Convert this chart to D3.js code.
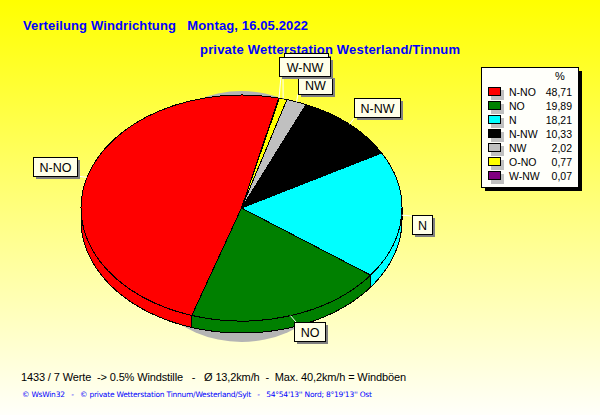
<!DOCTYPE html>
<html><head><meta charset="utf-8">
<script src="https://cdn.jsdelivr.net/npm/d3@7/dist/d3.min.js"></script>
<style>html,body{margin:0;padding:0;background:#fff}svg{display:block}text{white-space:pre}</style>
</head><body><svg id="c" width="600" height="415"></svg>
<script>
const categories=["N-NO","NO","N","N-NW","NW","O-NO","W-NW"];
const percents=[48.71,19.89,18.21,10.33,2.02,0.77,0.07];
const percentLabels=["48,71","19,89","18,21","10,33","2,02","0,77","0,07"];
const colors=["#ff0000","#008000","#00ffff","#000000","#c0c0c0","#ffff00","#800080"];
const titleLine1="Verteilung Windrichtung   Montag, 16.05.2022";
const titleLine2="private Wetterstation Westerland/Tinnum";
const footer1="1433 / 7 Werte  -> 0.5% Windstille   -   Ø 13,2km/h  -  Max. 40,2km/h = Windböen";
const footer2="© WsWin32   -   © private Wetterstation Tinnum/Westerland/Sylt   -   54°54'13'' Nord; 8°19'13'' Ost";

// layout
const cx=241.5,cy=208,rx=160.5,ry=113,depth=12;
const labelBoxes={ "N-NO":[33,157,44,19],"NO":[294,322,31,19],"N":[412,215,20,19],"N-NW":[354,98,46,19],
  "NW":[298,75,34,19],"O-NO":[284,53,44,19],"W-NW":[279,57,51,19]};
const hiddenLabels=["O-NO"]; // box lies under W-NW, its text is not visible
const leaderEnd={ "N-NO":[77,176],"NO":[296,322],"N":[412,216],"N-NW":[355,117],"NW":[298,94],"O-NO":[283,76],"W-NW":[281,76]};

const svg=d3.select("#c");
const defs=svg.append("defs");
const g=defs.append("linearGradient").attr("id","bg").attr("x1",0).attr("y1",0).attr("x2",0).attr("y2",1);
g.append("stop").attr("offset",0).attr("stop-color","#ffff00");
g.append("stop").attr("offset",1).attr("stop-color","#fffffa");
svg.append("rect").attr("width",600).attr("height",415).attr("fill","url(#bg)");

const font="'Liberation Sans',Arial,sans-serif";
svg.append("text").text(titleLine1).attr("x",23).attr("y",30).attr("fill","#0000ff")
  .attr("font-family",font).attr("font-weight","bold").attr("font-size",13).attr("textLength",285);
svg.append("text").text(titleLine2).attr("x",200).attr("y",54).attr("fill","#0000ff")
  .attr("font-family",font).attr("font-weight","bold").attr("font-size",13).attr("textLength",260);

// pie shadow
svg.append("ellipse").attr("cx",cx).attr("cy",216.5).attr("rx",120).attr("ry",125.5).attr("fill","#b4b4b4");

const start=13.4*Math.PI/180;
const pie=d3.pie().sort(null).startAngle(start).endAngle(start-2*Math.PI);
const arcs=pie(percents);
const pt=(a,dy=0)=>[cx+rx*Math.sin(a),cy-ry*Math.cos(a)+dy];
const line=d3.line();

// side walls, on the front half only (angle PI/2 to 3PI/2)
const walls=svg.append("g").attr("shape-rendering","crispEdges");
arcs.forEach((d,i)=>{
  const hi=Math.max(d.startAngle,d.endAngle),lo=Math.min(d.startAngle,d.endAngle);
  [[lo,hi],[lo+2*Math.PI,hi+2*Math.PI],[lo-2*Math.PI,hi-2*Math.PI]].forEach(([a,b])=>{
    const s=Math.max(a,Math.PI/2),e=Math.min(b,1.5*Math.PI);
    if(e<=s) return;
    const as=d3.range(0,61).map(k=>s+(e-s)*k/60);
    const top=as.map(t=>pt(t)),bot=as.map(t=>pt(t,depth)).reverse();
    walls.append("path").attr("d",line(top.concat(bot))+"Z").attr("fill",colors[i]).attr("stroke","#000").attr("stroke-width",1);
  });
});

// top face
const arc=d3.arc().innerRadius(0).outerRadius(rx);
const face=svg.append("g").attr("transform",`translate(${cx},${cy}) scale(1,${ry/rx})`).attr("shape-rendering","crispEdges");
face.selectAll("path").data(arcs).join("path").attr("d",arc).attr("fill",(d,i)=>colors[i])
  .attr("stroke","#000").attr("stroke-width",1).attr("vector-effect","non-scaling-stroke");

// slice labels
const lab=svg.append("g");
categories.forEach((name,i)=>{
  const d=arcs[i],b=labelBoxes[name],m=(d.startAngle+d.endAngle)/2;
  lab.append("line").attr("x1",pt(m)[0]).attr("y1",pt(m)[1]).attr("x2",leaderEnd[name][0]).attr("y2",leaderEnd[name][1]).attr("stroke","#fff");
  lab.append("rect").attr("x",b[0]+3).attr("y",b[1]+3).attr("width",b[2]).attr("height",b[3]).attr("fill","#808080");
  lab.append("rect").attr("x",b[0]+.5).attr("y",b[1]+.5).attr("width",b[2]).attr("height",b[3]).attr("fill","#ffffe8").attr("stroke","#000").attr("shape-rendering","crispEdges");
  if(hiddenLabels.includes(name)) return;
  lab.append("text").text(name).attr("x",b[0]+b[2]/2+.5).attr("y",b[1]+14.5).attr("text-anchor","middle")
    .attr("font-family",font).attr("font-size",12.5).attr("fill","#000");
});

// legend
const lx=481,ly=67,lw=97,lh=120;
svg.append("rect").attr("x",lx+4).attr("y",ly+4).attr("width",lw).attr("height",lh).attr("fill","#000");
svg.append("rect").attr("x",lx+.5).attr("y",ly+.5).attr("width",lw).attr("height",lh).attr("fill","#fffffa").attr("stroke","#000").attr("shape-rendering","crispEdges");
svg.append("text").text("%").attr("x",560).attr("y",80).attr("text-anchor","middle").attr("font-family",font).attr("font-size",11);
const rowY=d3.scalePoint().domain(categories).range([92,176]);
const rows=svg.append("g").selectAll("g").data(categories).join("g").attr("transform",d=>`translate(0,${rowY(d)})`);
rows.append("rect").attr("x",491).attr("y",-2).attr("width",13).attr("height",10).attr("fill","#c0c0c0");
rows.append("rect").attr("x",488.5).attr("y",-4.5).attr("width",12).attr("height",8).attr("fill",(d,i)=>colors[i]).attr("stroke","#000").attr("shape-rendering","crispEdges");
rows.append("text").text(d=>d).attr("x",509).attr("y",4).attr("font-family",font).attr("font-size",10.5);
rows.append("text").text((d,i)=>percentLabels[i]).attr("x",572).attr("y",4).attr("text-anchor","end").attr("font-family",font).attr("font-size",10.5);

// footer
svg.append("text").text(footer1).attr("x",21).attr("y",381).attr("font-family",font).attr("font-size",11).attr("textLength",385);
svg.append("text").text(footer2).attr("x",22).attr("y",397).attr("fill","#0000ff").attr("font-family","'DejaVu Sans',sans-serif").attr("font-size",7.5).attr("textLength",350);
</script></body></html>
